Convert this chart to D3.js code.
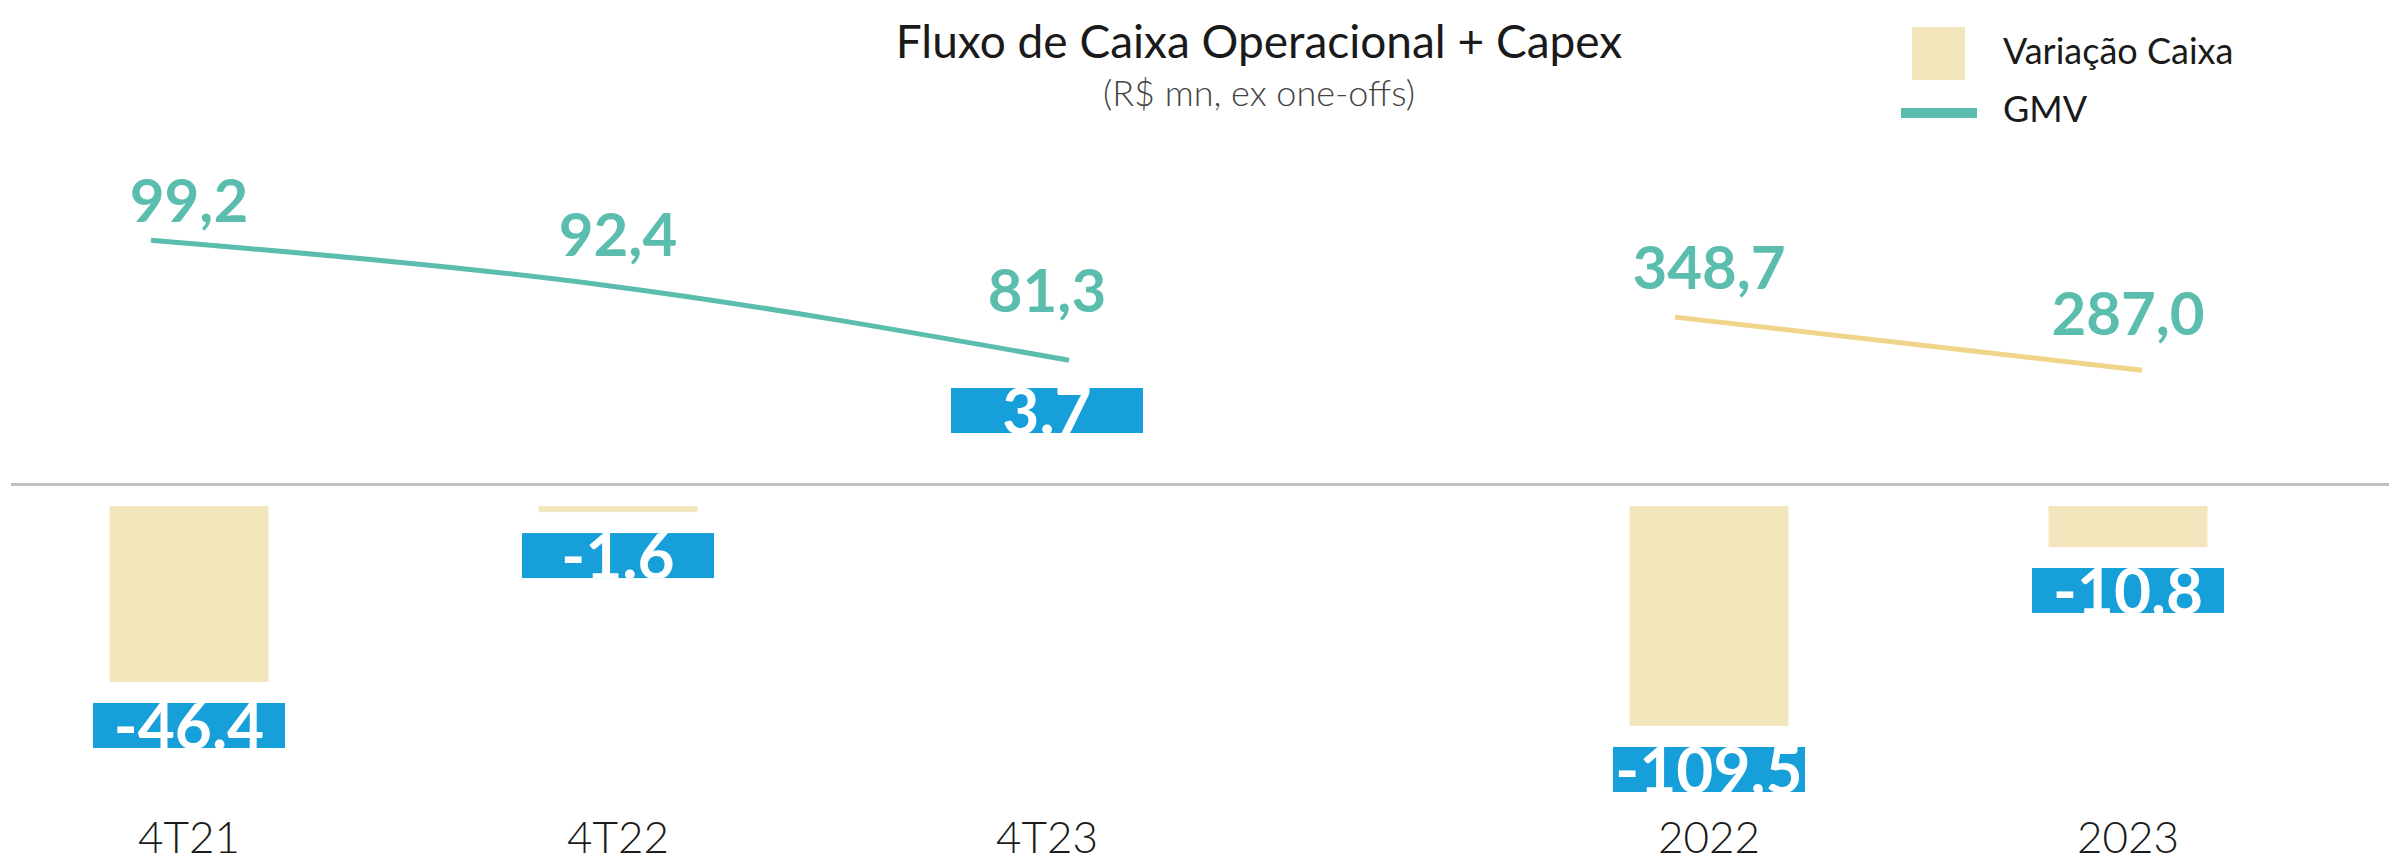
<!DOCTYPE html>
<html>
<head>
<meta charset="utf-8">
<script src="https://cdnjs.cloudflare.com/ajax/libs/d3/7.8.5/d3.min.js"></script>
<style>
  html, body { margin: 0; padding: 0; background: #fff; }
  svg { display: block; font-family: Lato, "Open Sans", sans-serif; }
</style>
</head>
<body>
<svg width="2401" height="864"></svg>
<script>
  // data
  const quarters = ["4T21", "4T22", "4T23"];
  const years = ["2022", "2023"];
  const caixaQ = [-46.4, -1.6, 3.7];
  const caixaY = [-109.5, -10.8];
  const caixaLabelsQ = ["-46.4", "-1.6", "3.7"];
  const caixaLabelsY = ["-109,5", "-10,8"];
  const gmvQ = [99.2, 92.4, 81.3];
  const gmvY = [348.7, 287.0];
  const gmvLabelsQ = ["99,2", "92,4", "81,3"];
  const gmvLabelsY = ["348,7", "287,0"];

  const teal = "#5bbdad", beige = "#f3e5bc", gold = "#f0d48a", blue = "#179fd9";

  const svg = d3.select("svg");

  // x scales: bars/labels and the lines are drawn a bit offset in the original
  const xQ = d3.scalePoint().domain(quarters).range([189, 1047]);
  const xY = d3.scalePoint().domain(years).range([1709, 2128]);
  const xLineQ = d3.scalePoint().domain(quarters).range([151, 1069]);
  const xLineY = d3.scalePoint().domain(years).range([1675, 2142]);

  // bars hang below the axis, clipped at the plot bottom
  const yBar = d3.scaleLinear().domain([0, -58]).range([506, 726]).clamp(true);
  const yLineQ = d3.scaleLinear().domain([0, 100]).range([905, 235]);
  const yLineY = d3.scaleLinear().domain([0, 400]).range([617, 273]);
  const yLabQ = d3.scaleLinear().domain([0, 100]).range([721, 218]);
  const yLabY = d3.scaleLinear().domain([0, 400]).range([549, 251]);

  const barW = 159, boxW = 192, boxH = 45;

  // title
  svg.append("text").attr("x", 1259).attr("y", 58).attr("text-anchor", "middle")
    .attr("font-size", 46).attr("fill", "#1a1a1a")
    .text("Fluxo de Caixa Operacional + Capex");
  svg.append("text").attr("x", 1259).attr("y", 106).attr("text-anchor", "middle")
    .attr("font-size", 36).attr("font-weight", 300).attr("fill", "#444")
    .text("(R$ mn, ex one-offs)");

  // legend
  const lg = svg.append("g");
  lg.append("rect").attr("x", 1912).attr("y", 27).attr("width", 53).attr("height", 53).attr("fill", beige);
  lg.append("text").attr("x", 2003).attr("y", 64).attr("font-size", 36).attr("fill", "#1a1a1a").text("Variação Caixa");
  lg.append("line").attr("x1", 1901).attr("x2", 1977).attr("y1", 113).attr("y2", 113)
    .attr("stroke", teal).attr("stroke-width", 10);
  lg.append("text").attr("x", 2003).attr("y", 122).attr("font-size", 36).attr("fill", "#1a1a1a").text("GMV");

  // axis line
  svg.append("line").attr("x1", 11).attr("x2", 2389).attr("y1", 484.5).attr("y2", 484.5)
    .attr("stroke", "#c0c0c0").attr("stroke-width", 3);

  const groups = [
    { cats: quarters, caixa: caixaQ, cLab: caixaLabelsQ, gmv: gmvQ, gLab: gmvLabelsQ,
      x: xQ, xl: xLineQ, yl: yLineQ, ylab: yLabQ, lineColor: teal },
    { cats: years, caixa: caixaY, cLab: caixaLabelsY, gmv: gmvY, gLab: gmvLabelsY,
      x: xY, xl: xLineY, yl: yLineY, ylab: yLabY, lineColor: gold }
  ];

  const defs = svg.append("defs");
  let clipId = 0;

  groups.forEach(g => {
    const rows = g.cats.map((c, i) => ({ cat: c, caixa: g.caixa[i], cLab: g.cLab[i], gmv: g.gmv[i], gLab: g.gLab[i] }));

    // bars
    svg.append("g").selectAll("rect").data(rows).enter().append("rect")
      .attr("x", d => g.x(d.cat) - barW / 2)
      .attr("y", d => Math.min(yBar(0), yBar(d.caixa)))
      .attr("width", barW)
      .attr("height", d => Math.abs(yBar(d.caixa) - yBar(0)))
      .attr("fill", beige);

    // value boxes
    rows.forEach(d => {
      const top = d.caixa < 0 ? yBar(d.caixa) + 21 : yBar(0) - 118;
      const x0 = g.x(d.cat) - boxW / 2;
      const id = "clip" + (clipId++);
      defs.append("clipPath").attr("id", id).append("rect")
        .attr("x", x0).attr("y", top).attr("width", boxW).attr("height", boxH);
      svg.append("rect").attr("x", x0).attr("y", top).attr("width", boxW).attr("height", boxH).attr("fill", blue);
      svg.append("text").attr("clip-path", `url(#${id})`)
        .attr("x", g.x(d.cat)).attr("y", top + 46).attr("text-anchor", "middle")
        .attr("font-size", 64).attr("font-weight", 700).attr("fill", "#fff")
        .text(d.cLab);
    });

    // GMV line
    const line = d3.line().x(d => g.xl(d.cat)).y(d => g.yl(d.gmv)).curve(d3.curveMonotoneX);
    svg.append("path").datum(rows).attr("d", line)
      .attr("fill", "none").attr("stroke", g.lineColor).attr("stroke-width", 5);

    // GMV labels
    svg.append("g").selectAll("text").data(rows).enter().append("text")
      .attr("x", d => g.x(d.cat)).attr("y", d => g.ylab(d.gmv))
      .attr("text-anchor", "middle").attr("font-size", 60).attr("font-weight", 700)
      .attr("fill", teal).text(d => d.gLab);

    // category labels
    svg.append("g").selectAll("text").data(rows).enter().append("text")
      .attr("x", d => g.x(d.cat)).attr("y", 853)
      .attr("text-anchor", "middle").attr("font-size", 44).attr("font-weight", 300)
      .attr("fill", "#1a1a1a").text(d => d.cat);
  });
</script>
</body>
</html>
